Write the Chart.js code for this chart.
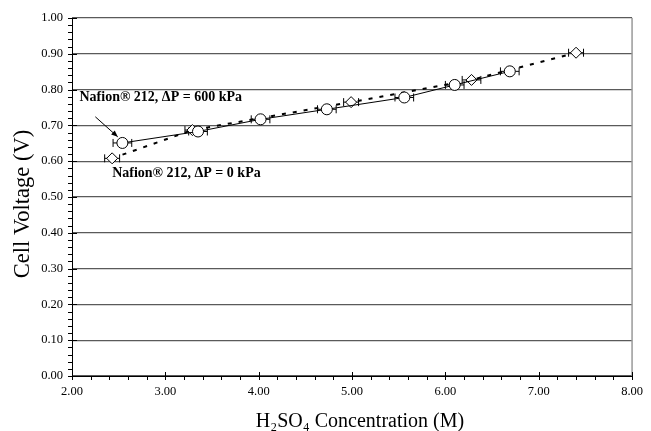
<!DOCTYPE html>
<html><head><meta charset="utf-8">
<script src="https://cdn.jsdelivr.net/npm/chart.js@4"></script>
<style>html,body{margin:0;padding:0;background:#fff}#wrap{width:651px;height:431px}</style>
</head><body><div id="wrap"><canvas id="c"></canvas></div>
<script>
const conc600 = [2.54, 3.35, 4.02, 4.73, 5.56, 6.10, 6.69];
const volt600 = [0.651, 0.683, 0.717, 0.745, 0.778, 0.813, 0.851];
const err600  = [0.10, 0.10, 0.10, 0.10, 0.10, 0.10, 0.10];
const conc0 = [2.43, 3.29, 4.99, 6.28, 7.40];
const volt0 = [0.608, 0.687, 0.765, 0.827, 0.903];
const err0  = [0.08, 0.08, 0.08, 0.10, 0.08];
const xTicks = [2, 3, 4, 5, 6, 7, 8];
const yTicks = [0, 0.1, 0.2, 0.3, 0.4, 0.5, 0.6, 0.7, 0.8, 0.9, 1.0];
const label600 = 'Nafion® 212, ΔP = 600 kPa';
const label0 = 'Nafion® 212, ΔP = 0 kPa';
const xTitle = 'H₂SO₄ Concentration (M)';
const yTitle = 'Cell Voltage (V)';

const pts600 = conc600.map((x, i) => ({x, y: volt600[i], e: err600[i]}));
const pts0 = conc0.map((x, i) => ({x, y: volt0[i], e: err0[i]}));

const SERIF = '"Liberation Serif", "Times New Roman", serif';

const errPlugin = {
  id: 'err',
  beforeDatasetsDraw(chart) {
    const ctx = chart.ctx, xs = chart.scales.x, ys = chart.scales.y;
    ctx.save();
    ctx.strokeStyle = '#000'; ctx.lineWidth = 1;
    chart.data.datasets.forEach(ds => {
      ds.data.forEach(p => {
        const y = ys.getPixelForValue(p.y);
        const x1 = xs.getPixelForValue(p.x - p.e), x2 = xs.getPixelForValue(p.x + p.e);
        ctx.beginPath();
        ctx.moveTo(x1, y); ctx.lineTo(x2, y);
        ctx.moveTo(x1, y - 4); ctx.lineTo(x1, y + 4);
        ctx.moveTo(x2, y - 4); ctx.lineTo(x2, y + 4);
        ctx.stroke();
      });
    });
    ctx.restore();
  }
};

const axesPlugin = {
  id: 'axesDeco',
  afterDraw(chart) {
    const ctx = chart.ctx, xs = chart.scales.x, ys = chart.scales.y, a = chart.chartArea;
    ctx.save();
    ctx.strokeStyle = '#999'; ctx.lineWidth = 1.5;
    ctx.beginPath(); ctx.moveTo(a.right, a.top); ctx.lineTo(a.right, a.bottom); ctx.stroke();
    ctx.strokeStyle = '#000'; ctx.lineWidth = 1;
    ctx.beginPath(); ctx.moveTo(a.left + 0.5, a.top); ctx.lineTo(a.left + 0.5, a.bottom); ctx.stroke();
    for (let v = 0; v <= 1.0001; v += 0.02) {
      const y = Math.round(ys.getPixelForValue(v)) + 0.5;
      const major = Math.abs(v * 10 - Math.round(v * 10)) < 1e-6;
      ctx.beginPath();
      ctx.moveTo(a.left - 4, y); ctx.lineTo(a.left + (major ? 5 : 0.5), y); ctx.stroke();
    }
    ctx.beginPath(); ctx.moveTo(a.left, a.bottom + 0.5); ctx.lineTo(a.right, a.bottom + 0.5); ctx.stroke();
    for (let v = 2; v <= 8.0001; v += 0.2) {
      const x = Math.round(xs.getPixelForValue(v)) + 0.5;
      const major = Math.abs(v - Math.round(v)) < 1e-6;
      ctx.beginPath();
      ctx.moveTo(x, a.bottom + (major ? -4 : 0)); ctx.lineTo(x, a.bottom + 4); ctx.stroke();
    }
    ctx.fillStyle = '#000';
    ctx.font = 'bold 14px ' + SERIF;
    ctx.textBaseline = 'middle'; ctx.textAlign = 'left';
    ctx.fillText(label600, xs.getPixelForValue(2.08), ys.getPixelForValue(0.777));
    ctx.fillText(label0, xs.getPixelForValue(2.43), ys.getPixelForValue(0.566));
    const ax1 = xs.getPixelForValue(2.25), ay1 = ys.getPixelForValue(0.724);
    const ax2 = xs.getPixelForValue(2.49), ay2 = ys.getPixelForValue(0.668);
    ctx.beginPath(); ctx.moveTo(ax1, ay1); ctx.lineTo(ax2, ay2); ctx.stroke();
    const ang = Math.atan2(ay2 - ay1, ax2 - ax1);
    ctx.beginPath();
    ctx.moveTo(ax2, ay2);
    ctx.lineTo(ax2 - 7 * Math.cos(ang - 0.4), ay2 - 7 * Math.sin(ang - 0.4));
    ctx.lineTo(ax2 - 7 * Math.cos(ang + 0.4), ay2 - 7 * Math.sin(ang + 0.4));
    ctx.closePath(); ctx.fill();
    ctx.textAlign = 'center'; ctx.textBaseline = 'alphabetic';
    ctx.font = '20px ' + SERIF;
    ctx.fillText(xTitle, 360, 427);
    ctx.save();
    ctx.translate(29, 204);
    ctx.rotate(-Math.PI / 2);
    ctx.font = '22.5px ' + SERIF;
    ctx.fillText(yTitle, 0, 0);
    ctx.restore();
    ctx.restore();
  }
};

new Chart(document.getElementById('c'), {
  type: 'scatter',
  data: {
    datasets: [
      {
        label: label0, data: pts0, showLine: true,
        borderColor: '#000', borderWidth: 2, borderDash: [4, 7],
        pointStyle: 'rectRot', pointRadius: 5.5, pointBorderWidth: 1,
        pointBackgroundColor: '#fff', pointBorderColor: '#000', order: 2
      },
      {
        label: label600, data: pts600, showLine: true,
        borderColor: '#000', borderWidth: 1,
        pointStyle: 'circle', pointRadius: 5.5, pointBorderWidth: 1,
        pointBackgroundColor: '#fff', pointBorderColor: '#000', order: 1
      }
    ]
  },
  options: {
    responsive: true, maintainAspectRatio: false, animation: false,
    layout: { padding: { left: 0, right: 11, top: 18, bottom: 0 } },
    plugins: { legend: { display: false }, tooltip: { enabled: false } },
    scales: {
      x: {
        type: 'linear', min: 2, max: 8,
        afterBuildTicks: s => { s.ticks = xTicks.map(v => ({value: v})); },
        afterFit: s => { s.height = 55; },
        grid: { display: false, drawTicks: false },
        border: { display: false },
        ticks: { color: '#000', padding: 8, font: { family: SERIF, size: 12.5 }, callback: v => Number(v).toFixed(2), maxRotation: 0 },
        title: { display: false }
      },
      y: {
        type: 'linear', min: 0, max: 1,
        afterBuildTicks: s => { s.ticks = yTicks.map(v => ({value: v})); },
        afterFit: s => { s.width = 72; },
        grid: { color: '#5a5a5a', lineWidth: 1.3, drawTicks: false },
        border: { display: false },
        ticks: { color: '#000', padding: 9, font: { family: SERIF, size: 12.5 }, callback: v => Number(v).toFixed(2) },
        title: { display: false }
      }
    }
  },
  plugins: [errPlugin, axesPlugin]
});
</script>
</body></html>
